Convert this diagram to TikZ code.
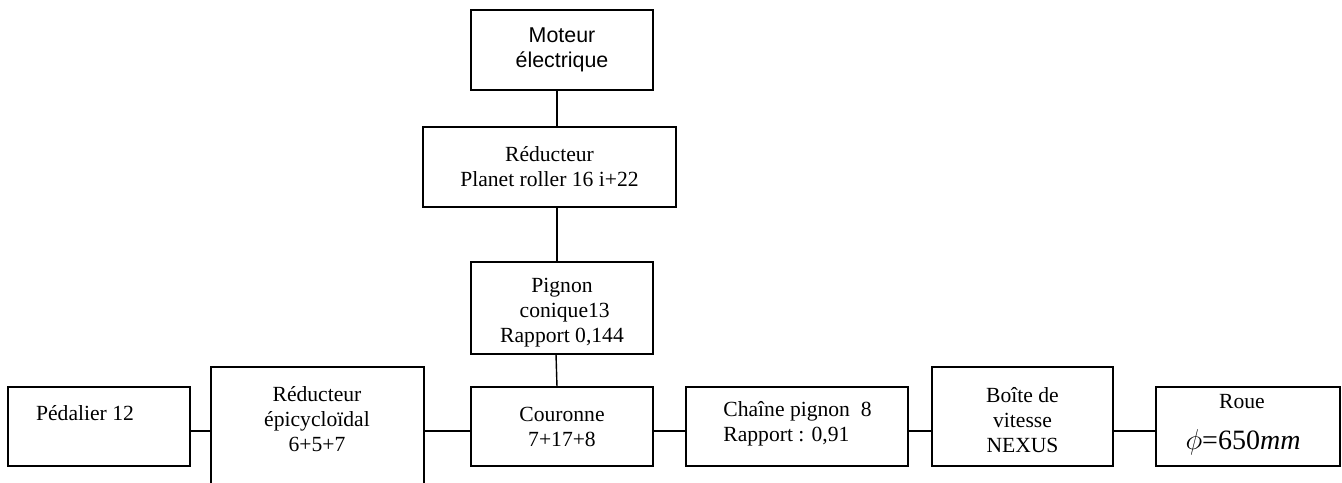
\documentclass[tikz,border=0pt]{standalone}
\usepackage{fontspec}
\setmainfont{Liberation Serif}
\newfontfamily\arialfont{Liberation Sans}
\usepackage{tikz}
\usetikzlibrary{positioning,calc}
\tikzset{
    every picture/.style={line cap=rect,line join=miter},
    organe/.style={draw=black,fill=white,line width=0.7pt,
      inner sep=1pt,outer sep=0pt,align=center,
      font=\fontsize{10.8}{12.5}\selectfont},
    legende/.style={inner sep=0pt,align=center,
      font=\fontsize{10.8}{12.5}\selectfont},
    liaison/.style={draw=black,line width=0.7pt}
}

\begin{document}
\begin{tikzpicture}[x=0.5pt,y=-0.5pt]
  \clip (0,0) rectangle (1342,482);
  % chaine verticale
  \node[organe,font=\arialfont\fontsize{10.7}{12.5}\selectfont,
    minimum width=91pt,minimum height=40pt] (moteur) at (562,50) {Moteur\\électrique};
  \node[organe,minimum width=126.5pt,minimum height=40pt] (planet) at (549.5,167)
    {Réducteur\\Planet roller 16 i+22};
  \node[organe,minimum width=91pt,minimum height=46pt] (pignon) at (562,308) {};
  \node[legende] (pignonT) at (562,313) {Pignon\\ \ conique13\\Rapport 0,144};
  \node[organe,minimum width=91pt,minimum height=39.5pt] (couronne) at (562,426.5)
    {Couronne\\7+17+8};
  % chaine horizontale
  \node[organe,minimum width=91pt,minimum height=39.5pt] (pedalier) at (99,426.5) {};
  \node[legende] (pedalierT) at (85,413) {Pédalier 12};
  \node[organe,minimum width=106.5pt,minimum height=70pt] (epi) at (317.5,437) {};
  \node[legende] (epiT) at (317,419) {Réducteur\\épicycloïdal\\6+5+7};
  \node[organe,minimum width=111pt,minimum height=39.5pt] (chaine) at (797,426.5) {};
  \node[legende,align=left,anchor=west] (chaineT) at (723,424)
    {Chaîne pignon~~8\\Rapport : 0,91};
  \node[organe,minimum width=90.5pt,minimum height=49.5pt] (boite) at (1022.5,416.5) {};
  \node[legende] (boiteT) at (1022.5,420) {Boîte de\\vitesse\\NEXUS};
  \node[organe,minimum width=92pt,minimum height=39.5pt] (roue) at (1248,426.5) {};
  \node[legende] (roueT) at (1242,402) {Roue};
  \node[legende,font=\fontsize{14}{16}\selectfont] (roueD) at (1243,442)
    {$\phi$=650\textit{mm}};
  \coordinate (axe) at (0,431);
  % liaisons
  \draw[liaison] ([xshift=-2.5pt]moteur.south) -- ([xshift=-2.5pt]moteur.south |- planet.north);
  \draw[liaison] ([xshift=-2.5pt]pignon.north |- planet.south) -- ([xshift=-2.5pt]pignon.north);
  \draw[liaison] ([xshift=-3pt]pignon.south) -- ([xshift=-2.5pt]couronne.north);
  \draw[liaison] (pedalier.east |- axe) -- (epi.west |- axe);
  \draw[liaison] (epi.east |- axe) -- (couronne.west |- axe);
  \draw[liaison] (couronne.east |- axe) -- (chaine.west |- axe);
  \draw[liaison] (chaine.east |- axe) -- (boite.west |- axe);
  \draw[liaison] (boite.east |- axe) -- (roue.west |- axe);
\end{tikzpicture}
\end{document}
